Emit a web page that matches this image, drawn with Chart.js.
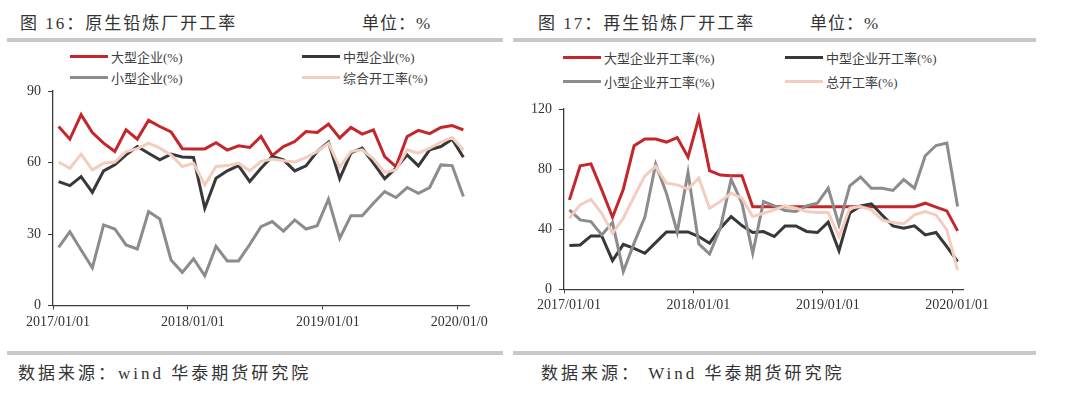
<!DOCTYPE html>
<html>
<head>
<meta charset="utf-8">
<script src="https://cdn.jsdelivr.net/npm/chart.js@4.4.1/dist/chart.umd.min.js"></script>
<style>
  body { margin: 0; width: 1080px; height: 398px; background: #fff; position: relative; overflow: hidden;
         font-family: "Liberation Serif", "Noto Sans CJK SC", serif; color: #333; }
  .txt { position: absolute; white-space: nowrap; line-height: 1; }
  .title { font-size: 17px; letter-spacing: 2px; top: 15px; }
  .foot { font-size: 17px; letter-spacing: 3px; top: 365px; }
  .bar { position: absolute; height: 4px; background: #c9c9c9; }
  .box { position: absolute; top: 75px; height: 260px; overflow: hidden; }
  .leg { position: absolute; display: flex; align-items: center; font-size: 13px; color: #404040; white-space: nowrap; }
  .leg i { display: inline-block; width: 38px; height: 3px; margin-right: 3px; }
</style>
</head>
<body>
  <div class="txt title" style="left:20px">图 16：原生铅炼厂开工率</div>
  <div class="txt title" style="left:362px;letter-spacing:1px">单位：%</div>
  <div class="txt title" style="left:538px">图 17：再生铅炼厂开工率</div>
  <div class="txt title" style="left:810px;letter-spacing:1px">单位：%</div>
  <div class="bar" style="left:7px;width:496px;top:38px"></div>
  <div class="bar" style="left:513px;width:523px;top:38px"></div>
  <div class="bar" style="left:7px;width:496px;top:351px"></div>
  <div class="bar" style="left:513px;width:523px;top:351px"></div>
  <div class="txt foot" style="left:18px">数据来源：wind 华泰期货研究院</div>
  <div class="txt foot" style="left:541px">数据来源： Wind 华泰期货研究院</div>

  <div id="legend16"></div>
  <div id="legend17"></div>
  <div class="box" style="left:0;width:488px"><canvas id="chart16" width="500" height="260"></canvas></div>
  <div class="box" style="left:510px;width:500px"><canvas id="chart17" width="500" height="260"></canvas></div>

<script>
// 月度数据 2017-01 .. 2020-01
const months = [];
for (let y = 2017; y <= 2020; y++) {
  for (let m = 1; m <= 12; m++) {
    if (y < 2020 || m === 1) months.push(`${y}-${String(m).padStart(2, '0')}`);
  }
}
const xTickMonths = ['2017-01', '2018-01', '2019-01', '2020-01'];
const xTickLabels = ['2017/01/01', '2018/01/01', '2019/01/01', '2020/01/01'];

// 图16 原生铅
const labels16 = ['大型企业(%)', '中型企业(%)', '小型企业(%)', '综合开工率(%)'];
const large16 = [75.1, 69.8, 80.1, 72.6, 68.1, 64.6, 73.7, 69.8, 77.7, 75.1, 72.8, 65.8, 65.7, 65.7, 68.3, 65.2, 67.0, 66.3, 70.9,
  62.9, 66.7, 68.8, 73.0, 72.6, 76.1, 70.3, 74.7, 71.9, 73.7, 62.5, 58.3, 70.9, 73.5, 72.1, 74.7, 75.5, 73.7];
const mid16 = [52.0, 50.3, 54.1, 47.5, 56.5, 59.0, 63.2, 66.7, 63.9, 61.1, 63.5, 62.3, 62.1, 40.8, 53.4, 56.5, 58.7, 52.0, 57.6,
  62.5, 61.1, 56.5, 58.6, 64.6, 68.6, 53.2, 64.0, 66.0, 59.7, 53.2, 57.6, 63.2, 58.6, 65.3, 66.7, 69.8, 62.2];
const small16 = [24.4, 31.0, 23.3, 15.8, 33.8, 32.1, 25.4, 23.7, 39.4, 36.3, 19.1, 13.9, 19.6, 12.5, 24.8, 18.7, 18.7, 25.6, 33.1,
  35.2, 31.2, 35.9, 32.1, 33.5, 44.6, 28.2, 37.7, 37.7, 42.9, 47.8, 45.3, 49.5, 47.1, 49.5, 59.0, 58.7, 45.7];
const total16 = [60.2, 57.6, 63.5, 56.9, 59.7, 60.2, 64.6, 65.8, 68.1, 66.0, 63.2, 58.3, 59.7, 50.6, 58.3, 58.7, 59.7, 56.5, 60.5,
  61.5, 60.7, 60.2, 62.1, 64.6, 68.1, 58.0, 64.6, 65.3, 61.5, 55.9, 56.9, 65.3, 63.9, 66.0, 68.6, 70.5, 65.3];

// 图17 再生铅
const labels17 = ['大型企业开工率(%)', '中型企业开工率(%)', '小型企业开工率(%)', '总开工率(%)'];
const large17 = [59.5, 82.2, 83.5, 66.2, 48.0, 66.6, 95.5, 100, 100, 98, 101, 88, 114, 79, 76, 75.5, 75.5,
  55, 55, 55, 55, 55, 55, 55, 55, 55, 55, 55, 55, 55, 55, 55, 55, 57.3, 54.7, 52.2, 38.9];
const mid17 = [29.1, 29.5, 35.5, 35.5, 19.1, 29.9, 27.3, 24.0, 31.1, 38.2, 38.2, 38.2, 35.1, 30.7, 40.7, 48.4, 42.4, 37.8, 38.4,
  35.1, 42.2, 42.2, 38.5, 37.8, 44.7, 25.7, 50.7, 55.5, 56.9, 49.5, 42.2, 40.6, 42.2, 36.2, 37.8, 28.4, 18.4];
const small17 = [52.9, 46.2, 45.1, 36.2, 44.4, 11.9, 30.7, 48.0, 83.3, 64, 38, 77.8, 30.2, 23.5, 40.7, 73.3, 57.3, 24.0, 58.4,
  55.5, 52.4, 51.8, 55.5, 57.3, 67.3, 42.9, 68.9, 74.7, 67.3, 67.3, 65.8, 73.0, 67.3, 88.9, 95.7, 97.3, 55.1];
const total17 = [47.3, 56.2, 59.9, 50.6, 37.3, 47.3, 61.7, 75.5, 81.8, 70.7, 69.5, 66.7, 74.0, 54.0, 58.4, 64.0, 60.6, 48.4, 50.6,
  52.9, 55.5, 54.0, 51.8, 51.1, 51.1, 35.1, 54.0, 55.1, 52.9, 46.2, 44.4, 43.6, 49.5, 51.8, 49.5, 39.5, 12.9];

const colors = ['#c4262c', '#383838', '#8c8c8c', '#f3cdbd'];
const axisColor = '#3c3c3c';
const tickFont = { family: '"Liberation Serif", serif', size: 14 };

const xTicks = xTickMonths.map(m => months.indexOf(m));
// 月中取点
const toPoints = vals => vals.map((v, i) => ({ x: i + 0.5, y: v }));

const renderLegend = (el, labels, cols, rows) => {
  labels.forEach((lab, i) => {
    const item = document.createElement('div');
    item.className = 'leg';
    item.style.left = cols[i % 2] + 'px';
    item.style.top = (rows[Math.floor(i / 2)] - 10) + 'px';
    item.innerHTML = `<i style="background:${colors[i]}"></i>${lab}`;
    el.appendChild(item);
  });
};

const renderChart = (id, labels, series, yMax, yStep, yWidth, xHeight, padding) => {
  const ctx = document.getElementById(id).getContext('2d');
  return new Chart(ctx, {
    type: 'line',
    data: {
      datasets: series.map((vals, i) => ({
        label: labels[i],
        data: toPoints(vals),
        borderColor: colors[i],
        borderWidth: 3,
        pointRadius: 0,
        tension: 0,
        order: 4 - i
      }))
    },
    options: {
      responsive: false,
      animation: false,
      devicePixelRatio: 1,
      layout: { padding },
      plugins: { legend: { display: false }, tooltip: { enabled: false } },
      scales: {
        x: {
          type: 'linear',
          min: 0,
          max: months.length,
          afterBuildTicks: s => { s.ticks = xTicks.map(v => ({ value: v })); },
          afterFit: s => { s.height = xHeight; s.paddingLeft = 0; s.paddingRight = 0; },
          grid: { drawOnChartArea: false, drawTicks: true, tickLength: 4, color: axisColor },
          border: { display: true, color: axisColor, width: 1.3 },
          ticks: {
            autoSkip: false, maxRotation: 0, padding: 4, labelOffset: 5, color: '#333', font: tickFont,
            callback: v => xTickLabels[xTicks.indexOf(v)]
          }
        },
        y: {
          min: 0,
          max: yMax,
          afterBuildTicks: s => {
            const t = [];
            for (let v = 0; v <= yMax; v += yStep) t.push({ value: v });
            s.ticks = t;
          },
          afterFit: s => { s.width = yWidth; s.paddingTop = 0; s.paddingBottom = 0; },
          grid: { drawOnChartArea: false, drawTicks: true, tickLength: 5, color: axisColor },
          border: { display: true, color: axisColor, width: 1.3 },
          ticks: { padding: 7, color: '#333', font: tickFont }
        }
      }
    }
  });
};

renderLegend(document.getElementById('legend16'), labels16, [70, 302], [57, 78]);
renderLegend(document.getElementById('legend17'), labels17, [563, 785], [58, 82]);

renderChart('chart16', labels16, [large16, mid16, small16, total16], 90, 30, 53, 29.5,
  { top: 16, right: 31, bottom: 0, left: 0 });
renderChart('chart17', labels17, [large17, mid17, small17, total17], 120, 40, 54, 45.7,
  { top: 34, right: 47, bottom: 0, left: 0 });
</script>
</body>
</html>
